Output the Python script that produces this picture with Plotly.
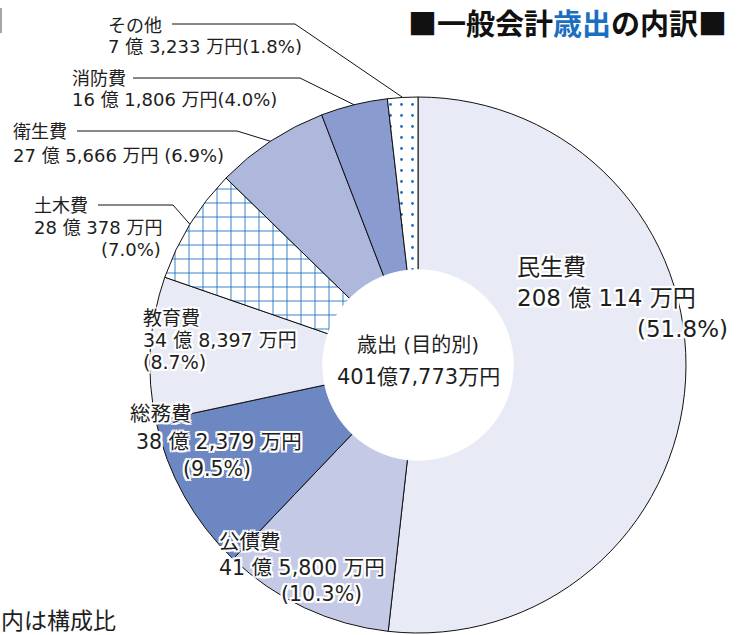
import math
import plotly.graph_objects as go

# ---------------- data ----------------
categories = ["民生費", "公債費", "総務費", "教育費", "土木費", "衛生費", "消防費", "その他"]
amounts_man = [2080114, 415800, 382379, 348397, 280378, 275666, 161806, 73233]  # 万円
colors = ["#e8eaf5", "#c4cae6", "#6d87c2", "#e8eaf5", "#ffffff", "#aeb8dd", "#8a9ccf", "#ffffff"]
patterns = ["", "", "", "", "+", "", "", "."]
center_title = "歳出 (目的別)"
center_total = "401億7,773万円"
title_html = "<b>■一般会計<span style='color:#1a6fc0'>歳出</span>の内訳■</b>"
note_text = "内は構成比"

W, H = 749, 635
CX, CY, R = 418, 365, 268
HOLE = 0.35
FONT = "DejaVu Sans, Noto Sans CJK JP, sans-serif"
TFONT = "Noto Sans CJK JP"
TXT = "#1e1e1e"

total = sum(amounts_man)


def fmt_amount(v):
    oku, man = divmod(v, 10000)
    return f"{oku} 億 {man:,} 万円"


def fmt_pct(v):
    return f"({v / total * 100:.1f}%)"


def px(x):
    return x / W


def py(y):
    return 1 - y / H


fig = go.Figure()
fig.add_trace(go.Pie(
    labels=categories, values=amounts_man, sort=False, direction="clockwise", rotation=0,
    hole=HOLE, textinfo="none", hoverinfo="label+value+percent", showlegend=False,
    marker=dict(colors=colors, line=dict(color="#111111", width=1),
                pattern=dict(shape=patterns, fgcolor="#1b6ec2", size=[14] * 7 + [11],
                             solidity=[0.12] * 7 + [0.05], fillmode="replace")),
    domain=dict(x=[px(CX - R), px(CX + R)], y=[py(CY + R), py(CY - R)]),
))

shapes = []
# white hole cover (hides inner arc borders)
hr = HOLE * R + 1.5
shapes.append(dict(type="circle", xref="paper", yref="paper", x0=px(CX - hr), x1=px(CX + hr),
                   y0=py(CY + hr), y1=py(CY - hr), fillcolor="white", line=dict(color="white", width=1),
                   layer="above"))

# mid-angle edge points for leader lines
cum = 0
edge = {}
for c, v in zip(categories, amounts_man):
    th = 2 * math.pi * (cum + v / 2) / total
    edge[c] = (CX + R * math.sin(th), CY - R * math.cos(th))
    cum += v

leaders = {  # category: (start x, knee x, y)
    "その他": (172, 295, 24),
    "消防費": (133, 300, 78),
    "衛生費": (77, 237, 131),
    "土木費": (98, 173, 205),
}
for c, (sx, kx, ly) in leaders.items():
    ex, ey = edge[c]
    shapes.append(dict(type="path", xref="paper", yref="paper",
                       path=f"M {px(sx)} {py(ly)} L {px(kx)} {py(ly)} L {px(ex)} {py(ey)}",
                       line=dict(color="#111111", width=1), layer="above"))

# small line at top-left
shapes.append(dict(type="line", xref="paper", yref="paper", x0=px(1), x1=px(1), y0=py(8), y1=py(33),
                   line=dict(color="#888888", width=1.5)))

HALO = ", ".join(f"{dx}px {dy}px 0 #fff" for dx, dy in
                 [(-2, -2), (2, -2), (-2, 2), (2, 2), (0, 2), (0, -2), (2, 0), (-2, 0)])

ann = []


def add(text, x, y, size, anchor="left", halo=False, color=TXT, family=FONT):
    f = dict(family=family, size=size, color=color)
    if halo:
        f["shadow"] = HALO
    ann.append(dict(text=text, xref="paper", yref="paper", x=px(x), y=py(y), xanchor=anchor,
                    yanchor="middle", showarrow=False, font=f))


idx = {c: i for i, c in enumerate(categories)}


def amt(c):
    return fmt_amount(amounts_man[idx[c]])


def pct(c):
    return fmt_pct(amounts_man[idx[c]])


OS = 18
# outside labels
add("その他", 106, 25, OS)
add(amt("その他") + pct("その他"), 106, 47, OS)
add("消防費", 70, 78, OS)
add(amt("消防費") + pct("消防費"), 70, 100, OS)
add("衛生費", 11, 131, OS)
add(amt("衛生費") + " " + pct("衛生費"), 11, 155, OS)
add("土木費", 32, 205, OS)
add(amt("土木費"), 32, 228, OS)
add(pct("土木費"), 163, 250, OS, anchor="right")
# inside labels
add("教育費", 141, 318, 19, halo=True)
add(amt("教育費"), 141, 340, 19, halo=True)
add(pct("教育費"), 141, 362, 19, halo=True)
add("総務費", 128, 414, 20.5, halo=True)
add(amt("総務費"), 134, 442, 20.5, halo=True)
add(pct("総務費"), 181, 469, 20.5, halo=True)
add("公債費", 217, 542, 20.5, halo=True)
add(amt("公債費"), 217, 568, 20.5, halo=True)
add(pct("公債費"), 364, 594, 20.5, anchor="right", halo=True)
add("民生費", 515, 267, 23, halo=True)
add(amt("民生費"), 515, 298, 23, halo=True)
add(pct("民生費"), 730, 329, 23, anchor="right", halo=True)
# center
add(center_title, CX, 345, 20, anchor="center")
add(center_total, CX, 377, 21, anchor="center")
# title & note
add(title_html, 406, 22, 29, color="#111111", family=TFONT)
add(note_text, -1, 619, 23, family=TFONT)

fig.update_layout(width=W, height=H, margin=dict(l=0, r=0, t=0, b=0), paper_bgcolor="white",
                  plot_bgcolor="white", shapes=shapes, annotations=ann, showlegend=False)
fig.write_html("out.html", config={"displayModeBar": False},
               post_script="document.body.style.margin='0px';")
